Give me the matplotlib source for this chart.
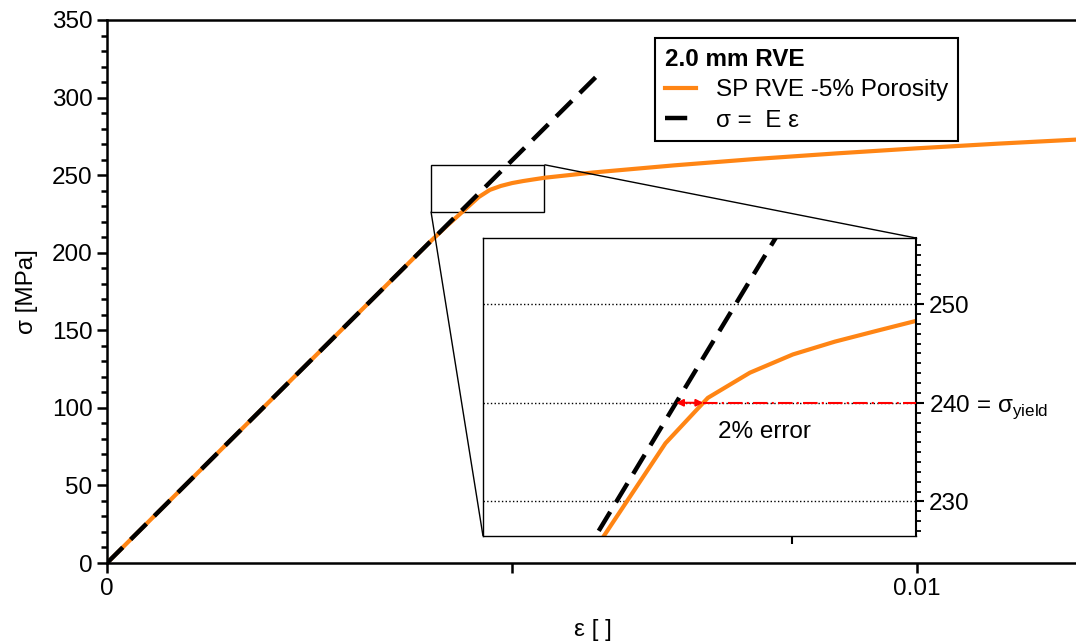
import numpy as np
import matplotlib
matplotlib.use('Agg')
import matplotlib.pyplot as plt
from matplotlib.ticker import MultipleLocator
from mpl_toolkits.axes_grid1.inset_locator import mark_inset

plt.rcParams['font.family'] = ['Liberation Sans', 'DejaVu Sans']
plt.rcParams['mathtext.fontset'] = 'custom'
plt.rcParams['mathtext.rm'] = 'Liberation Sans'

# stress-strain curve of the RVE
eps = [0, 0.001, 0.002, 0.003, 0.004, 0.0042, 0.00459, 0.004727, 0.004863,
       0.005002, 0.005138, 0.005274, 0.0054, 0.006, 0.007, 0.008, 0.009,
       0.010, 0.011, 0.012]
sig = [0, 51.9, 103.8, 155.7, 207.6, 217.5, 235.9, 240.5, 243.05,
       244.9, 246.2, 247.3, 248.3, 251.7, 256.3, 260.4, 264.0,
       267.3, 270.3, 273.0]

# linear elastic line
E = 51900
eps_lin = [0, 0.00605]
sig_lin = [E * e for e in eps_lin]

sig_yield = 240
eps_y_lin = sig_yield / E
eps_y = np.interp(sig_yield, sig, eps)

orange = '#ff8514'
fs = 17.5

fig = plt.figure(figsize=(10.76, 6.44), dpi=100)
ax = fig.add_axes([107 / 1076, 1 - 563 / 644, 972 / 1076, 543 / 644])
ax.plot(eps, sig, color=orange, lw=3, label='SP RVE -5% Porosity', zorder=2)
ax.plot(eps_lin, sig_lin, color='k', lw=3.2, dashes=(5, 2.5), label='σ =  E ε', zorder=3)
ax.set_xlim(0, 0.012)
ax.set_ylim(0, 350)
ax.set_xticks([0, 0.005, 0.01])
ax.set_xticklabels(['0', '', '0.01'])
ax.yaxis.set_major_locator(MultipleLocator(50))
ax.yaxis.set_minor_locator(MultipleLocator(10))
ax.tick_params(which='major', length=7, width=1.8, labelsize=fs)
ax.tick_params(which='minor', length=4, width=1.8)
for s in ['left', 'bottom', 'top']:
    ax.spines[s].set_linewidth(1.8)
ax.spines['right'].set_visible(False)
ax.set_xlabel('ε [ ]', fontsize=fs, labelpad=14)
ax.set_ylabel('σ [MPa]', fontsize=fs, labelpad=10)

leg = ax.legend(loc='upper left', bbox_to_anchor=(655 / 1076, 1 - 38 / 644),
                bbox_transform=fig.transFigure, title='2.0 mm RVE',
                title_fontproperties={'weight': 'bold', 'size': fs},
                alignment='left', fontsize=fs, handlelength=1.3,
                fancybox=False, framealpha=1, edgecolor='k', borderaxespad=0,
                borderpad=0.4, labelspacing=0.35, handletextpad=0.8)
leg.get_frame().set_linewidth(1.5)

# zoomed inset
axins = fig.add_axes([483 / 1076, 1 - 536 / 644, 433 / 1076, 298 / 644])
for v in [230, 240, 250]:
    axins.axhline(v, color='k', ls=':', lw=1, zorder=1)
axins.plot(eps, sig, color=orange, lw=3, zorder=2)
axins.plot(eps_lin, sig_lin, color='k', lw=3.2, dashes=(5, 2.5), zorder=3)
axins.plot([eps_y, 0.0054], [sig_yield, sig_yield], color='red', lw=1.5,
           dashes=(7, 2, 1, 2), zorder=4)
axins.annotate('', xy=(eps_y_lin, sig_yield), xytext=(eps_y, sig_yield),
               arrowprops=dict(arrowstyle='<|-|>', color='red', lw=1.5,
                               mutation_scale=10, shrinkA=0, shrinkB=0), zorder=4)
axins.text(0.00476, 237.05, '2% error', fontsize=fs, va='center')
axins.set_xlim(0.004, 0.0054)
axins.set_ylim(226.5, 256.7)
axins.yaxis.tick_right()
axins.set_yticks([230, 240, 250])
axins.set_yticklabels(['230', '240 = σ$_{\\mathrm{yield}}$', '250'])
axins.yaxis.set_minor_locator(MultipleLocator(1))
axins.set_xticks([0.005])
axins.set_xticklabels([''])
axins.tick_params(which='major', length=6, width=1.5, labelsize=fs)
axins.tick_params(which='minor', length=3.5, width=1.3)
for s in axins.spines.values():
    s.set_linewidth(1)
axins.spines['right'].set_linewidth(1.5)

mark_inset(ax, axins, loc1=1, loc2=3, fc='none', ec='k', lw=1)

fig.savefig('out.png', dpi=100)
